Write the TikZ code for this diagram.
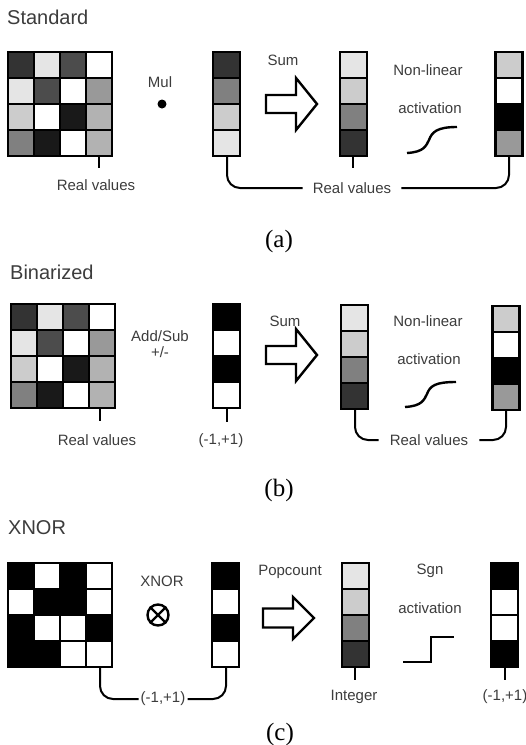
\documentclass[tikz,border=0pt]{standalone}
\usepackage{fontspec}
\setmainfont{Liberation Sans}
\newfontfamily\captionfont{Liberation Serif}

\definecolor{labelgray}{HTML}{3C3C3C}

% cell shades of the weight matrices
\newcommand{\realgrid}{{black!80,black!10,black!70,white},{black!10,black!70,white,black!40},{black!20,white,black!90,black!30},{black!50,black!90,white,black!30}}
\newcommand{\signgrid}{{black,white,black,white},{white,black,black,white},{black,white,white,black},{black,black,white,white}}

\tikzset{
    cell/.style={draw=black, line width=2.4pt},
    wire/.style={line width=2pt, rounded corners=13pt},
    tick/.style={line width=2pt},
    lbl/.style={text=labelgray, font=\fontsize{15}{18}\selectfont, inner sep=0pt},
    ttl/.style={text=labelgray, font=\fontsize{20}{24}\selectfont, inner sep=0pt, anchor=west},
    capt/.style={font=\captionfont\fontsize{25}{30}\selectfont, inner sep=0pt},
    bigarrow/.style={draw, line width=2.4pt, fill=white, line join=miter},
    actcurve/.style={line width=2.4pt},
}

\begin{document}
\begin{tikzpicture}[x=1pt, y=-1pt]
\useasboundingbox (0,0) rectangle (526,745);

% ---------------- (a) standard
\node[ttl] (titleA) at (7,17) {Standard};

\foreach \row [count=\r from 0] in \realgrid
    \foreach \col [count=\c from 0] in \row
        \draw[cell, fill=\col] (8+26*\c, 52+26*\r) rectangle ++(26,26);
\node[lbl] (mulA) at (160,82) {Mul};
\node[circle, fill, minimum size=9pt, inner sep=0pt] (mulop) at (162,104) {};

\foreach \col [count=\r from 0] in {black!80,black!50,black!20,black!10}
    \draw[cell, fill=\col] (213, 52+26*\r) rectangle ++(27,26);
\node[lbl] (sumA) at (283,60) {Sum};
\begin{scope}[shift={(266,104)}]
    \draw[bigarrow] (0,-9) -- (30,-9) -- (30,-26) -- (51,0) -- (30,26) -- (30,9) -- (0,9) -- cycle;
\end{scope}

\foreach \col [count=\r from 0] in {black!10,black!20,black!50,black!80}
    \draw[cell, fill=\col] (340, 52+26*\r) rectangle ++(27,26);
\node[lbl] (nlA) at (428,70) {Non-linear};
\node[lbl] (actA) at (430,108) {activation};
\draw[actcurve] (407,153) .. controls (424,152) and (426,146) .. (429,140)
    .. controls (432,132) and (437,127) .. (457,127);

\foreach \col [count=\r from 0] in {black!20,white,black,black!40}
    \draw[cell, fill=\col] (495.5, 52+26*\r) rectangle ++(27,26);

% values
\coordinate (tA1) at (99,156);
\coordinate (tA2) at (353,156);
\coordinate (vA1b) at (227,156);
\coordinate (vA3b) at (509,156);
\node[lbl] (realA) at (96,185) {Real values};
\node[lbl] (realAw) at (352,188) {Real values};
\draw[tick] (tA1) -- +(0,12);
\draw[tick] (tA2) -- +(0,12);
\draw[wire] (vA1b) |- ([xshift=-10pt]realAw.west);
\draw[wire] ([xshift=10pt]realAw.east) -| (vA3b);

\node[capt] (capA) at (279,241) {(a)};

% ---------------- (b) binarized
\node[ttl] (titleB) at (10,272) {Binarized};

\begin{scope}[shift={(3,252)}]
\foreach \row [count=\r from 0] in \realgrid
    \foreach \col [count=\c from 0] in \row
        \draw[cell, fill=\col] (8+26*\c, 52+26*\r) rectangle ++(26,26);
\end{scope}
\node[lbl] (addB) at (160,336) {Add/Sub};
\node[lbl] (pmB) at (160,352) {+/-};

\foreach \col [count=\r from 0] in {black,white,black,white}
    \draw[cell, fill=\col] (213, 304+26*\r) rectangle ++(27,26);
\node[lbl] (sumB) at (285,321) {Sum};
\begin{scope}[shift={(266,355)}]
    \draw[bigarrow] (0,-9) -- (30,-9) -- (30,-26) -- (51,0) -- (30,26) -- (30,9) -- (0,9) -- cycle;
\end{scope}

\foreach \col [count=\r from 0] in {black!10,black!20,black!50,black!80}
    \draw[cell, fill=\col] (341, 305+26*\r) rectangle ++(27,26);
\node[lbl] (nlB) at (428,321) {Non-linear};
\node[lbl] (actB) at (429,359) {activation};
\draw[actcurve] (405,407) .. controls (422,406) and (424,400) .. (427,394)
    .. controls (430,386) and (435,382) .. (456,382);

\foreach \col [count=\r from 0] in {black!20,white,black,black!40}
    \draw[cell, fill=\col] (492.5, 306+26*\r) rectangle ++(27,26);

% values
\coordinate (tB1) at (100,408);
\coordinate (tB2) at (227,408);
\coordinate (vB2b) at (355,409);
\coordinate (vB3b) at (506,410);
\node[lbl] (realB) at (97,440) {Real values};
\node[lbl] (signB) at (221,441) {(-1,+1)};
\node[lbl] (realBw) at (429,440) {Real values};
\draw[tick] (tB1) -- +(0,13);
\draw[tick] (tB2) -- +(0,14);
\draw[wire] (vB2b) |- ([xshift=-11pt]realBw.west);
\draw[wire] ([xshift=11pt]realBw.east) -| (vB3b);

\node[capt] (capB) at (279,490) {(b)};

% ---------------- (c) xnor
\node[ttl] (titleC) at (8,528) {XNOR};

\foreach \row [count=\r from 0] in \signgrid
    \foreach \col [count=\c from 0] in \row
        \draw[cell, fill=\col] (8+26*\c, 563+26*\r) rectangle ++(26,26);
\node[lbl] (xnorC) at (162,581) {XNOR};
\node[draw, circle, line width=2.4pt, minimum size=21pt, inner sep=0pt] (xnorop) at (158,615) {};
\draw[line width=2.4pt] (xnorop.north west) -- (xnorop.south east);
\draw[line width=2.4pt] (xnorop.south west) -- (xnorop.north east);

\foreach \col [count=\r from 0] in {black,white,black,white}
    \draw[cell, fill=\col] (212, 563+26*\r) rectangle ++(27,26);
\node[lbl] (popC) at (290,572) {Popcount};
\begin{scope}[shift={(263,618)}]
    \draw[bigarrow] (0,-9.5) -- (30,-9.5) -- (30,-21) -- (51,0) -- (30,21) -- (30,9.5) -- (0,9.5) -- cycle;
\end{scope}

\foreach \col [count=\r from 0] in {black!10,black!20,black!50,black!80}
    \draw[cell, fill=\col] (342, 563+26*\r) rectangle ++(27,26);
\node[lbl] (sgnC) at (430,571) {Sgn};
\node[lbl] (actC) at (430,608) {activation};
\draw[actcurve] (403,662) -- (431,662) -- (431,637) -- (454,637);

\foreach \col [count=\r from 0] in {black,white,white,black}
    \draw[cell, fill=\col] (491, 563+26*\r) rectangle ++(27,26);

% values
\coordinate (mCb) at (100,667);
\coordinate (vC1b) at (226,667);
\coordinate (tC2) at (355,667);
\coordinate (tC3) at (505,667);
\node[lbl] (signCw) at (163,699) {(-1,+1)};
\node[lbl] (intC) at (354,697) {Integer};
\node[lbl] (signC) at (505,697) {(-1,+1)};
\draw[tick] (tC2) -- +(0,13);
\draw[tick] (tC3) -- +(0,13);
\draw[wire] (mCb) |- ([xshift=-2pt]signCw.west);
\draw[wire] ([xshift=2pt]signCw.east) -| (vC1b);

\node[capt] (capC) at (280,734) {(c)};

\end{tikzpicture}
\end{document}
